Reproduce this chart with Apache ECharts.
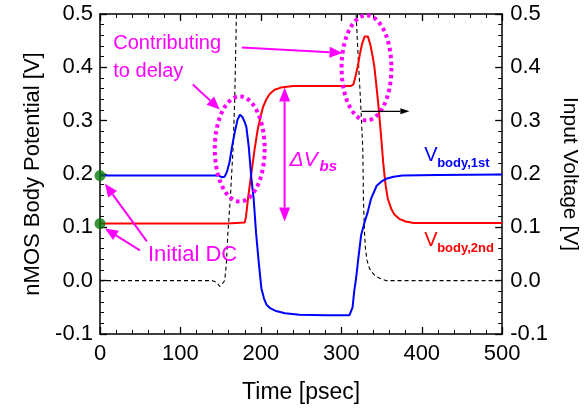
<!DOCTYPE html>
<html><head><meta charset="utf-8">
<script src="https://cdn.jsdelivr.net/npm/echarts@6/dist/echarts.min.js"></script>
<style>html,body{margin:0;padding:0;background:#fff}#c{width:588px;height:409px}</style>
</head><body><div id="c"></div>
<script>
// ---- data (time in psec, voltage in V) ----
const xTicks = [0, 100, 200, 300, 400, 500];
const yTicks = [-0.1, 0.0, 0.1, 0.2, 0.3, 0.4, 0.5];

const vbody1st = [[0,0.197],[148,0.197],[151,0.194],[153,0.193],[155,0.195],[158,0.205],[161,0.222],[164,0.25],[167.5,0.278],[171,0.302],[174,0.311],[177,0.307],[180,0.297],[182,0.288],[185,0.25],[188,0.195],[191,0.154],[194,0.09],[197,0.04],[200.6,-0.014],[204,-0.034],[207,-0.045],[212,-0.052],[219,-0.057],[230,-0.061],[248,-0.064],[280,-0.065],[310,-0.065],[312,-0.066],[314,-0.05],[316,-0.02],[318.4,0.005],[321,0.04],[324.6,0.085],[329,0.11],[332.9,0.129],[337,0.154],[344,0.178],[350,0.186],[355.7,0.191],[365,0.195],[376,0.197],[420,0.198],[500,0.199]];

const vbody2nd = [[0,0.107],[158,0.107],[160,0.109],[180,0.109],[181.5,0.12],[184,0.154],[188,0.2],[192.3,0.247],[196,0.283],[199.8,0.309],[203,0.327],[206.8,0.34],[211,0.35],[217,0.358],[225,0.362],[240,0.365],[312,0.365],[315,0.368],[318,0.385],[320.5,0.402],[323,0.424],[326,0.445],[329,0.458],[331,0.461],[333,0.458],[336,0.443],[339,0.42],[341,0.402],[344,0.36],[346.6,0.321],[349.5,0.27],[352.4,0.216],[355,0.18],[357.7,0.154],[362,0.135],[366,0.124],[372,0.116],[380,0.111],[390,0.108],[500,0.108]];

const vinput = [[0,0],[140,0],[145,-0.003],[149,-0.011],[152,-0.006],[155,0.0],[157,0.03],[159,0.09],[162,0.154],[165.4,0.247],[167.5,0.34],[169.6,0.5],[172,0.7],[175,0.9],[180,1.0],[310,1.0],[315,0.75],[318.4,0.5],[320.5,0.433],[323.8,0.34],[326.7,0.247],[327.5,0.154],[328.8,0.092],[330,0.06],[332,0.038],[335,0.023],[339,0.014],[343,0.008],[350,0.003],[356,0],[500,0]];

const initialDC = [[0,0.197],[0,0.107]];

// ---- annotation anchors in data coordinates ----
const ellipseCenters = [[173.7,0.247],[331.3,0.399]];
const ellipseHalf = [31, 0.0985];           // half width (psec), half height (V)
const arrowsMagenta = [
  [[58.3,0.0736],[6.2,0.1816]],
  [[49.6,0.0568],[6.2,0.0978]],
  [[115.4,0.368],[148.9,0.321]],
  [[176.2,0.437],[301.5,0.427]]
];
const arrowInput = [[325,0.3175],[384.6,0.3175]];
const deltaArrow = [[229.5,0.362],[229.5,0.111]];
const textAnchors = {
  contributing: [16.5,0.445],
  toDelay: [16.5,0.392],
  initialDC: [59.6,0.049],
  delta: [235.7,0.226],
  v1: [403,0.235],
  v2: [403,0.075]
};

const FONT = '"Liberation Sans", Arial, sans-serif';
const MAG = '#ff00ff';

const chart = echarts.init(document.getElementById('c'), null, {renderer:'canvas'});

const axisCommon = {
  min: xTicks[0], max: xTicks[xTicks.length-1], interval: 100,
  axisLine: {show:true, onZero:false, lineStyle:{color:'#000', width:1.5}},
  axisTick: {show:true, inside:true, length:7, lineStyle:{color:'#000', width:1.3}},
  minorTick: {show:true, splitNumber:5, length:4, lineStyle:{color:'#000', width:1}},
  splitLine: {show:false}
};
const yCommon = {
  type:'value', min: yTicks[0], max: yTicks[yTicks.length-1], interval: 0.1,
  axisLine: {show:true, onZero:false, lineStyle:{color:'#000', width:1.5}},
  axisTick: {show:true, inside:true, length:7, lineStyle:{color:'#000', width:1.3}},
  minorTick: {show:true, splitNumber:5, length:4, lineStyle:{color:'#000', width:1}},
  splitLine: {show:false},
  axisLabel: {fontSize:22, color:'#000', fontFamily:FONT, formatter: v => v.toFixed(1)},
  nameLocation:'middle',
  nameTextStyle: {fontSize:22, color:'#000', fontFamily:FONT}
};

chart.setOption({
  animation:false,
  backgroundColor:'#fff',
  grid: {left:100, right:85, top:14, bottom:73, containLabel:false},
  xAxis: [
    Object.assign({}, axisCommon, {type:'value', position:'bottom',
      axisLabel:{fontSize:22, color:'#000', fontFamily:FONT, margin:9},
      name:'Time [psec]', nameLocation:'middle', nameGap:47,
      nameTextStyle:{fontSize:23, color:'#000', fontFamily:FONT}}),
    Object.assign({}, axisCommon, {type:'value', position:'top', axisLabel:{show:false}})
  ],
  yAxis: [
    Object.assign({}, yCommon, {position:'left', name:'nMOS Body Potential [V]', nameGap:55,
      axisLabel: Object.assign({}, yCommon.axisLabel, {margin:7})}),
    Object.assign({}, yCommon, {position:'right', name:'Input Voltage [V]', nameGap:52, nameRotate:-90,
      nameTextStyle:{fontSize:21, color:'#000', fontFamily:FONT},
      axisLabel: Object.assign({}, yCommon.axisLabel, {margin:8})})
  ],
  series: [
    {type:'line', data:vinput, xAxisIndex:0, yAxisIndex:1, showSymbol:false, clip:true,
     lineStyle:{color:'#000', width:1.1, type:[4,3]}, z:2},
    {type:'line', data:vbody2nd, showSymbol:false, clip:true,
     lineStyle:{color:'#ff0000', width:2}, z:3},
    {type:'line', data:vbody1st, showSymbol:false, clip:true,
     lineStyle:{color:'#0000ff', width:2}, z:4},
    {type:'scatter', data:initialDC, symbolSize:11, clip:false,
     itemStyle:{color:'#0b7a0b'}, z:6}
  ]
});

function px(p){ return chart.convertToPixel({xAxisIndex:0, yAxisIndex:0}, p); }

function arrow(p1, p2, color, lw, hl, hw){
  const a = px(p1), b = px(p2);
  const dx = b[0]-a[0], dy = b[1]-a[1], len = Math.hypot(dx,dy);
  const ux = dx/len, uy = dy/len;
  const bx = b[0]-ux*hl, by = b[1]-uy*hl;
  return [
    {type:'line', shape:{x1:a[0], y1:a[1], x2:bx, y2:by}, style:{stroke:color, lineWidth:lw}, z:10},
    {type:'polygon', shape:{points:[[b[0],b[1]],[bx-uy*hw/2, by+ux*hw/2],[bx+uy*hw/2, by-ux*hw/2]]},
     style:{fill:color, stroke:null}, z:10}
  ];
}

function ellipse(c){
  const cc = px(c);
  const e = px([c[0]+ellipseHalf[0], c[1]+ellipseHalf[1]]);
  const rx = Math.abs(e[0]-cc[0]), ry = Math.abs(e[1]-cc[1]);
  const pts = [];
  for(let i=0;i<=120;i++){ const t=i/120*Math.PI*2; pts.push([cc[0]+rx*Math.cos(t), cc[1]+ry*Math.sin(t)]); }
  return {type:'polyline', shape:{points:pts}, style:{stroke:MAG, fill:null, lineWidth:4, lineDash:[3.5,3.5]}, z:9};
}

function text(p, str, opts){
  const q = px(p);
  return {type:'text', x:q[0] + (opts.dx||0), y:q[1] + (opts.dy||0), z:11,
    style:Object.assign({text:str, fill:opts.color, font:opts.font,
      textAlign:'left', textVerticalAlign:'middle', align:'left', verticalAlign:'middle'})};
}

function doubleArrow(p1,p2){
  const a = px(p1), b = px(p2);
  const hl = 14, hw = 11;
  return [
    {type:'line', shape:{x1:a[0], y1:a[1]+hl, x2:b[0], y2:b[1]-hl}, style:{stroke:MAG, lineWidth:2}, z:10},
    {type:'polygon', shape:{points:[[a[0],a[1]],[a[0]-hw/2,a[1]+hl],[a[0]+hw/2,a[1]+hl]]}, style:{fill:MAG}, z:10},
    {type:'polygon', shape:{points:[[b[0],b[1]],[b[0]-hw/2,b[1]-hl],[b[0]+hw/2,b[1]-hl]]}, style:{fill:MAG}, z:10}
  ];
}

let g = [];
ellipseCenters.forEach(c => g.push(ellipse(c)));
arrowsMagenta.forEach(a => { g = g.concat(arrow(a[0], a[1], MAG, 2, 13, 11)); });
g = g.concat(arrow(arrowInput[0], arrowInput[1], '#000', 1.2, 9, 6));
g = g.concat(doubleArrow(deltaArrow[0], deltaArrow[1]));
g.push(text(textAnchors.contributing, 'Contributing', {color:MAG, font:'20px '+FONT}));
g.push(text(textAnchors.toDelay, 'to delay', {color:MAG, font:'20px '+FONT}));
g.push(text(textAnchors.initialDC, 'Initial DC', {color:MAG, font:'22px '+FONT}));
g.push(text(textAnchors.delta, 'ΔV', {color:MAG, font:'italic 21px '+FONT}));
g.push(text(textAnchors.delta, 'bs', {color:MAG, font:'italic bold 15px '+FONT, dx:30, dy:7}));
g.push(text(textAnchors.v1, 'V', {color:'#0000ff', font:'20px '+FONT}));
g.push(text(textAnchors.v1, 'body,1st', {color:'#0000ff', font:'bold 13px '+FONT, dx:13, dy:8}));
g.push(text(textAnchors.v2, 'V', {color:'#ff0000', font:'20px '+FONT}));
g.push(text(textAnchors.v2, 'body,2nd', {color:'#ff0000', font:'bold 13px '+FONT, dx:13, dy:8}));

chart.setOption({graphic: g});
</script>
</body></html>
